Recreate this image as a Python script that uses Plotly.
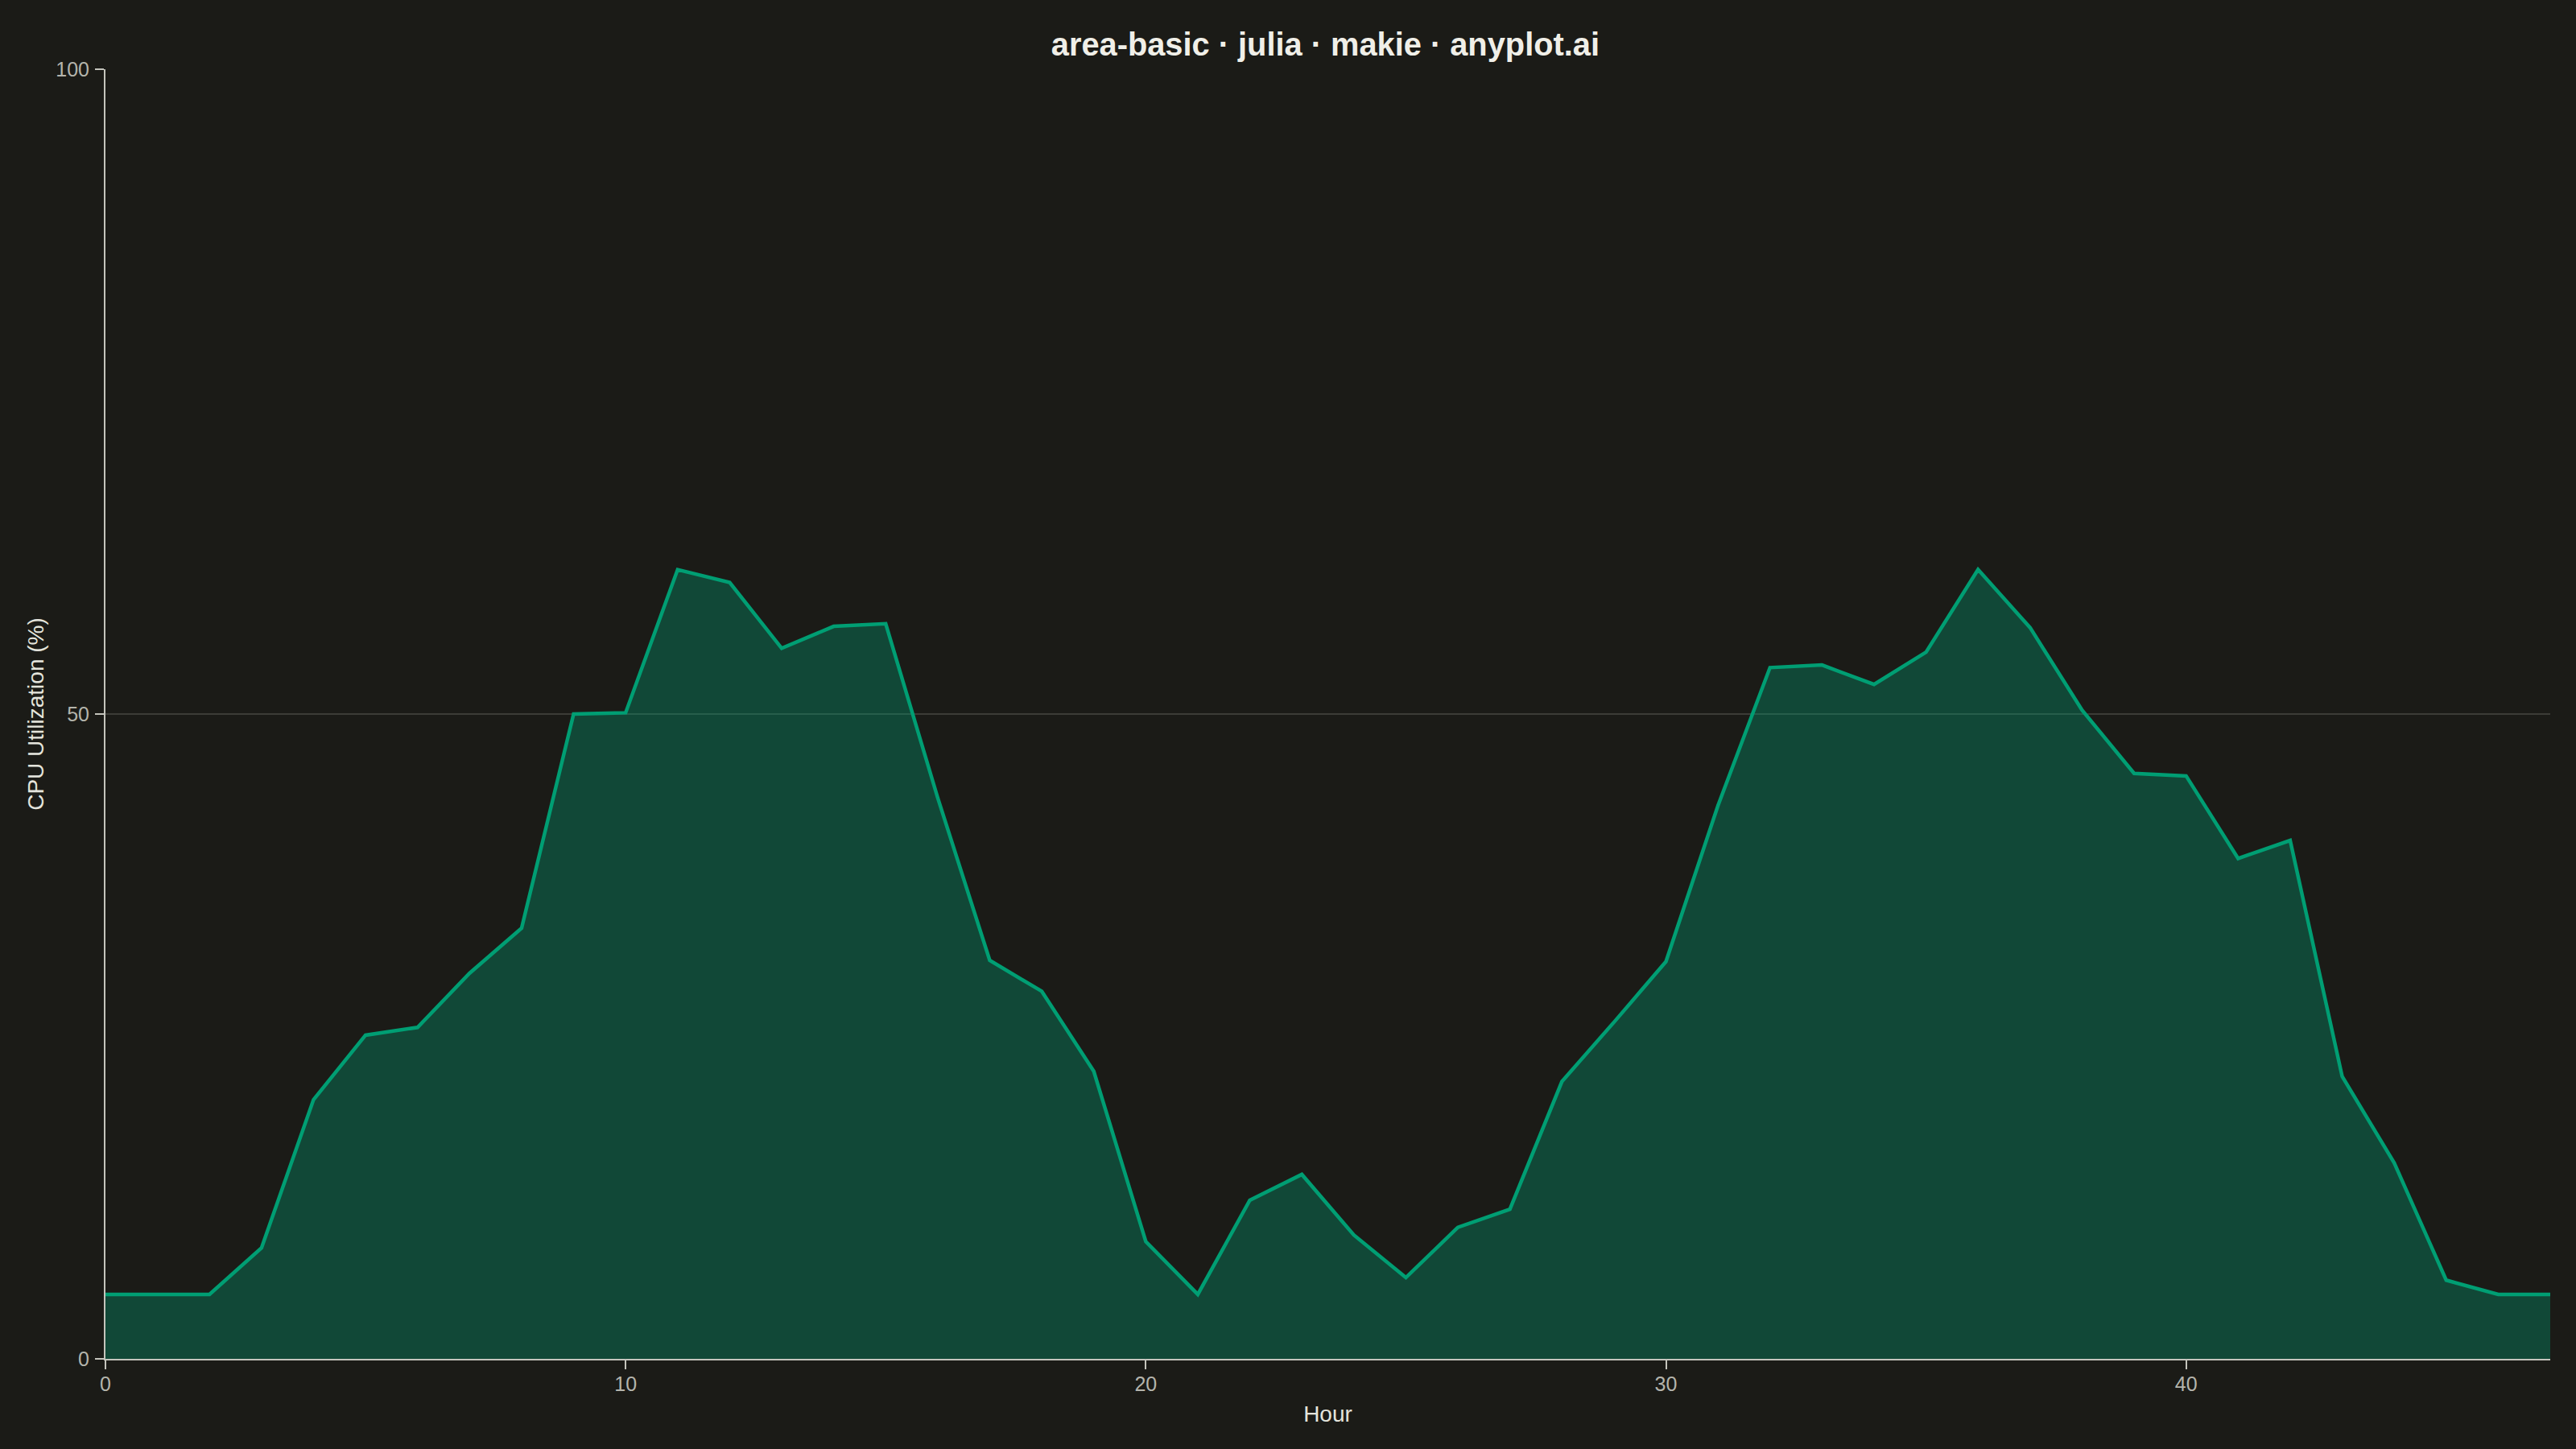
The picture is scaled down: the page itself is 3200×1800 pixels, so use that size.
import plotly.graph_objects as go

# hourly CPU utilization over two days
hours = list(range(48))
cpu = [
    5.0, 5.0, 5.0, 8.6, 20.1, 25.1, 25.7, 29.9, 33.4, 50.0,
    50.1, 61.2, 60.2, 55.1, 56.8, 57.0, 43.5, 30.9, 28.5, 22.3,
    9.1, 5.0, 12.3, 14.3, 9.6, 6.3, 10.2, 11.6, 21.5, 26.1,
    30.8, 42.9, 53.6, 53.8, 52.3, 54.8, 61.2, 56.7, 50.3, 45.4,
    45.2, 38.8, 40.2, 21.9, 15.2, 6.1, 5.0, 5.0,
]
x_ticks = [0, 10, 20, 30, 40]
y_ticks = [0, 50, 100]

bg = "#1b1b17"
green = "#009E73"
font_family = "Liberation Sans, Arial, sans-serif"

fig = go.Figure()
fig.add_trace(go.Scatter(
    x=hours, y=cpu,
    mode="lines",
    fill="tozeroy",
    fillcolor="rgba(0,158,115,0.35)",
    line=dict(color=green, width=4.5),
    showlegend=False,
))

axis_common = dict(
    showline=True,
    linecolor="#c4c4bc",
    linewidth=2,
    ticks="outside",
    ticklen=11,
    tickwidth=2,
    tickcolor="#c4c4bc",
    tickfont=dict(size=25, color="#b4b4ac", family=font_family),
    zeroline=False,
    mirror=False,
)

fig.update_xaxes(
    range=[0, 47],
    tickvals=x_ticks,
    showgrid=False,
    title=dict(text="Hour", font=dict(size=28, color="#e4e4dc",
                                      family=font_family), standoff=14),
    ticklabelstandoff=-3,
    **axis_common,
)
fig.update_yaxes(
    range=[0, 100],
    tickvals=y_ticks,
    showgrid=True,
    gridcolor="#3c3c37",
    gridwidth=1.5,
    title=dict(text="CPU Utilization (%)",
               font=dict(size=28, color="#e4e4dc", family=font_family),
               standoff=6),
    ticklabelstandoff=2,
    **axis_common,
)

fig.update_layout(
    width=3200,
    height=1800,
    paper_bgcolor=bg,
    plot_bgcolor=bg,
    margin=dict(l=131, r=32, t=86, b=112, autoexpand=False),
    title=dict(
        text="<b>area-basic · julia · makie · anyplot.ai</b>",
        x=0.5145, xanchor="center",
        y=1 - 55 / 1800, yanchor="middle",
        font=dict(size=39.8, color="#f0efe8", family=font_family),
    ),
    font=dict(family=font_family),
)

# drop the default page margin so the figure fills the window
fig.write_html(
    "out.html",
    config={"displayModeBar": False},
    post_script="document.body.style.margin='0';"
                "document.body.style.background='#1b1b17';",
)
